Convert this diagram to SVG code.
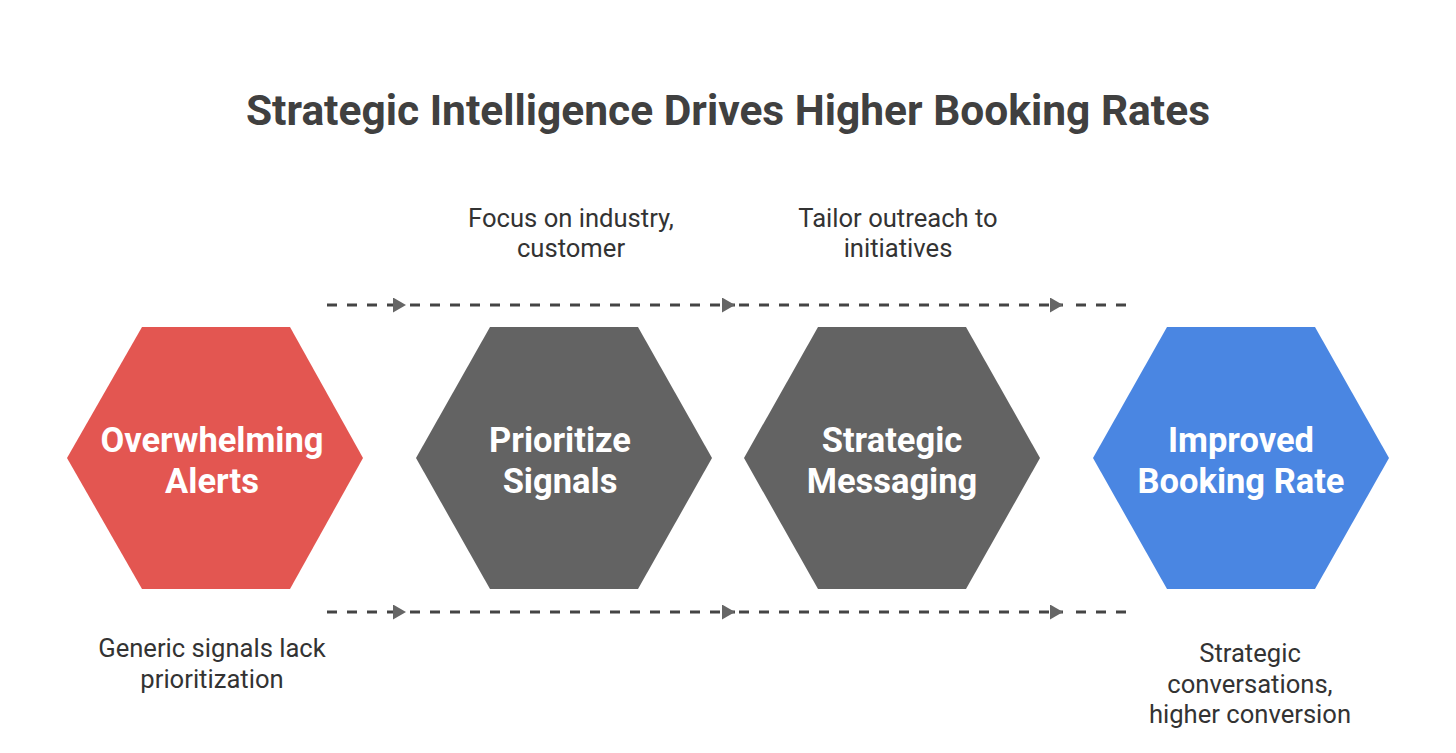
<svg xmlns="http://www.w3.org/2000/svg" width="1456" height="753" viewBox="0 0 1456 753">
<style>
.title{font-family:Roboto,"Liberation Sans",sans-serif;font-weight:700;font-size:42.5px;fill:#404040;text-anchor:middle}
.nt{font-family:Roboto,"Liberation Sans",sans-serif;font-weight:700;font-size:34.5px;fill:#ffffff;text-anchor:middle}
.lb{font-family:Roboto,"Liberation Sans",sans-serif;font-size:25.6px;fill:#333333;text-anchor:middle}
.dash{fill:none;stroke:#444444;stroke-width:3;stroke-dasharray:10 10}
</style>
<defs>
<marker id="ah" viewBox="0 0 13 15" refX="13" refY="7.5" markerWidth="13" markerHeight="15" markerUnits="userSpaceOnUse" orient="auto">
<path d="M0,0 L13,7.5 L0,15 Z" fill="#666666"/>
</marker>
</defs>
<rect width="1456" height="753" fill="#ffffff"/>
<text class="title" x="728" y="125">Strategic Intelligence Drives Higher Booking Rates</text>
<g id="connectors">
<path class="dash" d="M327,305 H406" marker-end="url(#ah)"/>
<path class="dash" d="M410,305 H735" marker-end="url(#ah)"/>
<path class="dash" d="M739,305 H1063" marker-end="url(#ah)"/>
<path class="dash" d="M1076,305 H1131"/>
<path class="dash" d="M327,612 H406" marker-end="url(#ah)"/>
<path class="dash" d="M410,612 H735" marker-end="url(#ah)"/>
<path class="dash" d="M739,612 H1063" marker-end="url(#ah)"/>
<path class="dash" d="M1076,612 H1131"/>
</g>
<g id="node-overwhelming">
<polygon points="67,458 142,327 290,327 363,458 290,589 142,589" fill="#E35651"/>
<text class="nt" x="212" y="452">Overwhelming</text>
<text class="nt" x="212" y="493">Alerts</text>
</g>
<g id="node-prioritize">
<polygon points="416,458 490,327 638,327 712,458 638,589 490,589" fill="#636363"/>
<text class="nt" x="560" y="452">Prioritize</text>
<text class="nt" x="560" y="493">Signals</text>
</g>
<g id="node-strategic">
<polygon points="744,458 818,327 966,327 1040,458 966,589 818,589" fill="#636363"/>
<text class="nt" x="892" y="452">Strategic</text>
<text class="nt" x="892" y="493">Messaging</text>
</g>
<g id="node-improved">
<polygon points="1093,458 1167,327 1315,327 1389,458 1315,589 1167,589" fill="#4A86E2"/>
<text class="nt" x="1241" y="452">Improved</text>
<text class="nt" x="1241" y="493">Booking Rate</text>
</g>
<g id="label-focus">
<text class="lb" x="571" y="227">Focus on industry,</text>
<text class="lb" x="571" y="257">customer</text>
</g>
<g id="label-tailor">
<text class="lb" x="898" y="227">Tailor outreach to</text>
<text class="lb" x="898" y="257">initiatives</text>
</g>
<g id="label-generic">
<text class="lb" x="212" y="657">Generic signals lack</text>
<text class="lb" x="212" y="688">prioritization</text>
</g>
<g id="label-strategic">
<text class="lb" x="1250" y="662">Strategic</text>
<text class="lb" x="1250" y="693">conversations,</text>
<text class="lb" x="1250" y="723">higher conversion</text>
</g>
</svg>
